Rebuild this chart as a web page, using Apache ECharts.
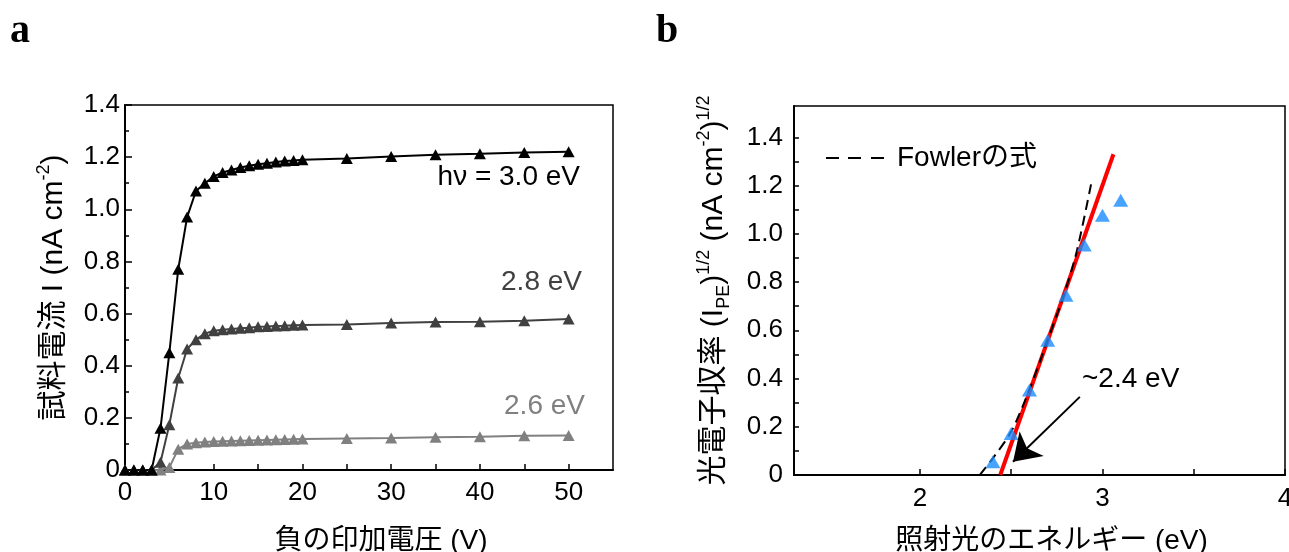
<!DOCTYPE html>
<html>
<head>
<meta charset="utf-8">
<script src="https://cdn.jsdelivr.net/npm/echarts@6/dist/echarts.min.js"></script>
<style>
  html, body { margin: 0; padding: 0; background: #fff; }
  #chart { width: 1289px; height: 552px; }
</style>
</head>
<body>
<div id="chart"></div>
<script>
// panel a: sample current vs negative bias
const voltage = [0, 1, 2, 3, 4, 5, 6, 7, 8, 9, 10, 11, 12, 13, 14, 15, 16, 17, 18, 19, 20, 25, 30, 35, 40, 45, 50];
const current30 = [0, 0, 0, 0, 0.16, 0.45, 0.77, 0.97, 1.07, 1.10, 1.126, 1.141, 1.151, 1.16, 1.167, 1.173, 1.177, 1.181, 1.185, 1.187, 1.19, 1.195, 1.202, 1.209, 1.213, 1.218, 1.221];
const current28 = [0, 0, 0, 0, 0.03, 0.174, 0.353, 0.464, 0.50, 0.523, 0.534, 0.538, 0.541, 0.544, 0.546, 0.549, 0.55, 0.552, 0.553, 0.555, 0.556, 0.558, 0.564, 0.568, 0.569, 0.572, 0.579];
const current26 = [0, 0, 0, 0, 0, 0.01, 0.08, 0.10, 0.105, 0.107, 0.109, 0.11, 0.111, 0.112, 0.113, 0.114, 0.115, 0.116, 0.117, 0.118, 0.119, 0.121, 0.123, 0.126, 0.128, 0.131, 0.132];
const voltLabels = [0, 10, 20, 30, 40, 50];
const voltTicks = [0, 5, 10, 15, 20, 25, 30, 35, 40, 45, 50];

// panel b: photoemission yield vs photon energy
const photonEnergy = [2.4, 2.5, 2.6, 2.7, 2.8, 2.9, 3.0, 3.1];
const yieldSqrt = [0.055, 0.172, 0.352, 0.559, 0.745, 0.954, 1.077, 1.139];
const redFit = [[2.44, 0], [3.06, 1.33]];
// Fowler curve
const fowlerCurve = [[2.328, 0], [2.40, 0.07], [2.50, 0.18], [2.60, 0.355], [2.70, 0.56], [2.79, 0.75], [2.86, 0.93], [2.94, 1.215]];
const arrowFrom = [2.876, 0.324];
const arrowTo = [2.51, 0.055];
const energyLabels = [2, 3, 4];
const energyTicks = [2, 2.5, 3, 3.5, 4];
const yieldLabels = [0, 0.2, 0.4, 0.6, 0.8, 1.0, 1.2, 1.4];
const yieldTicks = [0, 0.1, 0.2, 0.3, 0.4, 0.5, 0.6, 0.7, 0.8, 0.9, 1.0, 1.1, 1.2, 1.3, 1.4];

const FONT = "'Liberation Sans', Arial, 'Noto Sans CJK JP', sans-serif";
const richScript = {
    sup: { fontSize: 18, lineHeight: 18, verticalAlign: 'top', fontFamily: FONT, color: '#000' },
    sub: { fontSize: 18, lineHeight: 18, verticalAlign: 'bottom', fontFamily: FONT, color: '#000' }
};
const xNameStyle = { fontSize: 28, lineHeight: 34, fontFamily: FONT, color: '#000' };
const yNameStyle = { fontSize: 30, lineHeight: 38, fontFamily: FONT, color: '#000', rich: richScript };
const labelStyle = { fontSize: 26, fontFamily: FONT, color: '#000' };
const axisLine = { show: true, lineStyle: { color: '#000', width: 2 } };
const fmt = v => v === 0 ? '0' : v.toFixed(1);

const chart = echarts.init(document.getElementById('chart'));
chart.setOption({
    animation: false,
    backgroundColor: '#fff',
    grid: [
        { left: 125, top: 105, width: 488, height: 365, outerBoundsMode: 'none', containLabel: false, show: true, borderColor: '#000', borderWidth: 1.5 },
        { left: 794, top: 106, width: 491, height: 369, outerBoundsMode: 'none', containLabel: false, show: true, borderColor: '#000', borderWidth: 1.5 }
    ],
    xAxis: [
        {
            gridIndex: 0, type: 'value', min: 0, max: 55,
            name: '負の印加電圧 (V)', nameLocation: 'middle', nameGap: 54,
            nameTextStyle: { ...xNameStyle, padding: [0, 0, 0, 24] },
            axisLine: axisLine,
            axisTick: { inside: true, length: 6, customValues: voltTicks, lineStyle: { color: '#000', width: 1.5 } },
            axisLabel: { ...labelStyle, margin: 10, customValues: voltLabels },
            splitLine: { show: false }
        },
        {
            gridIndex: 1, type: 'value', min: 1.31, max: 4,
            name: '照射光のエネルギー (eV)', nameLocation: 'middle', nameGap: 49,
            nameTextStyle: { ...xNameStyle, padding: [0, 0, 0, 24] },
            axisLine: axisLine,
            axisTick: { inside: true, length: 6, customValues: energyTicks, lineStyle: { color: '#000', width: 1.5 } },
            axisLabel: { ...labelStyle, margin: 11, customValues: energyLabels },
            splitLine: { show: false }
        }
    ],
    yAxis: [
        {
            gridIndex: 0, type: 'value', min: 0, max: 1.4, interval: 0.2,
            name: '試料電流 I (nA cm{sup|-2})', nameLocation: 'middle', nameGap: 52, nameTextStyle: yNameStyle,
            axisLine: axisLine,
            axisTick: { inside: true, length: 7, lineStyle: { color: '#000', width: 1.5 } },
            minorTick: { show: true, splitNumber: 2, length: 4, lineStyle: { color: '#000', width: 1.5 } },
            axisLabel: { ...labelStyle, margin: 5, formatter: fmt },
            splitLine: { show: false }
        },
        {
            gridIndex: 1, type: 'value', min: 0, max: 1.53,
            name: '光電子収率 (I{sub|PE}){sup|1/2} (nA cm{sup|-2}){sup|1/2}', nameLocation: 'middle', nameGap: 61,
            nameTextStyle: yNameStyle,
            axisLine: axisLine,
            axisTick: { inside: true, length: 5, customValues: yieldTicks, lineStyle: { color: '#000', width: 1.5 } },
            axisLabel: { ...labelStyle, margin: 11, customValues: yieldLabels, formatter: fmt },
            splitLine: { show: false }
        }
    ],
    legend: {
        left: 821, top: 139,
        data: [{ name: 'Fowlerの式', icon: 'path://M0,0h13v2h-13z M22,0h13v2h-13z M45,0h13v2h-13z' }],
        itemWidth: 58, itemHeight: 2,
        itemStyle: { color: '#000' },
        textStyle: { fontSize: 28, fontFamily: FONT, color: '#000', padding: [0, 0, 0, 8] }
    },
    graphic: [
        { type: 'text', left: 10, top: 12, style: { text: 'a', fontSize: 40, fontWeight: 'bold', fontFamily: "'Liberation Serif', 'Times New Roman', serif", fill: '#000' } },
        { type: 'text', left: 656, top: 12, style: { text: 'b', fontSize: 40, fontWeight: 'bold', fontFamily: "'Liberation Serif', 'Times New Roman', serif", fill: '#000' } },
        { type: 'text', right: 1289 - 580, top: 163, style: { text: 'hν = 3.0 eV', fontSize: 28, fontFamily: FONT, fill: '#000' } },
        { type: 'text', right: 1289 - 582, top: 268, style: { text: '2.8 eV', fontSize: 28, fontFamily: FONT, fill: '#404040' } },
        { type: 'text', right: 1289 - 585, top: 392, style: { text: '2.6 eV', fontSize: 28, fontFamily: FONT, fill: '#808080' } },
        { type: 'text', left: 1082, top: 365, style: { text: '~2.4 eV', fontSize: 28, fontFamily: FONT, fill: '#000' } }
    ],
    series: [
        {
            name: '2.6 eV', type: 'line', xAxisIndex: 0, yAxisIndex: 0,
            data: voltage.map((v, i) => [v, current26[i]]),
            symbol: 'triangle', symbolSize: [12, 11],
            itemStyle: { color: '#808080' }, lineStyle: { color: '#808080', width: 2 }
        },
        {
            name: '2.8 eV', type: 'line', xAxisIndex: 0, yAxisIndex: 0,
            data: voltage.map((v, i) => [v, current28[i]]),
            symbol: 'triangle', symbolSize: [12, 11],
            itemStyle: { color: '#404040' }, lineStyle: { color: '#404040', width: 2 }
        },
        {
            name: '3.0 eV', type: 'line', xAxisIndex: 0, yAxisIndex: 0,
            data: voltage.map((v, i) => [v, current30[i]]),
            symbol: 'triangle', symbolSize: [12, 11],
            itemStyle: { color: '#000' }, lineStyle: { color: '#000', width: 2 }
        },
        {
            name: 'fit', type: 'line', xAxisIndex: 1, yAxisIndex: 1,
            data: redFit, symbol: 'none', showSymbol: false,
            lineStyle: { color: '#ff0000', width: 4 },
            z: 2,
            markLine: {
                silent: true,
                symbol: ['none', 'arrow'],
                symbolSize: 26,
                label: { show: false },
                lineStyle: { color: '#000', width: 2, type: 'solid' },
                itemStyle: { color: '#000' },
                data: [[{ coord: arrowFrom }, { coord: arrowTo }]]
            }
        },
        {
            name: 'Fowlerの式', type: 'line', xAxisIndex: 1, yAxisIndex: 1,
            data: fowlerCurve, symbol: 'none', showSymbol: false, smooth: 0.3,
            itemStyle: { color: '#000' },
            lineStyle: { color: '#000', width: 2, type: [10, 6] },
            z: 3
        },
        {
            name: 'yield', type: 'scatter', xAxisIndex: 1, yAxisIndex: 1,
            data: photonEnergy.map((e, i) => [e, yieldSqrt[i]]),
            symbol: 'triangle', symbolSize: [15, 13],
            itemStyle: { color: '#1a8cff' },
            z: 4
        }
    ]
});
</script>
</body>
</html>
